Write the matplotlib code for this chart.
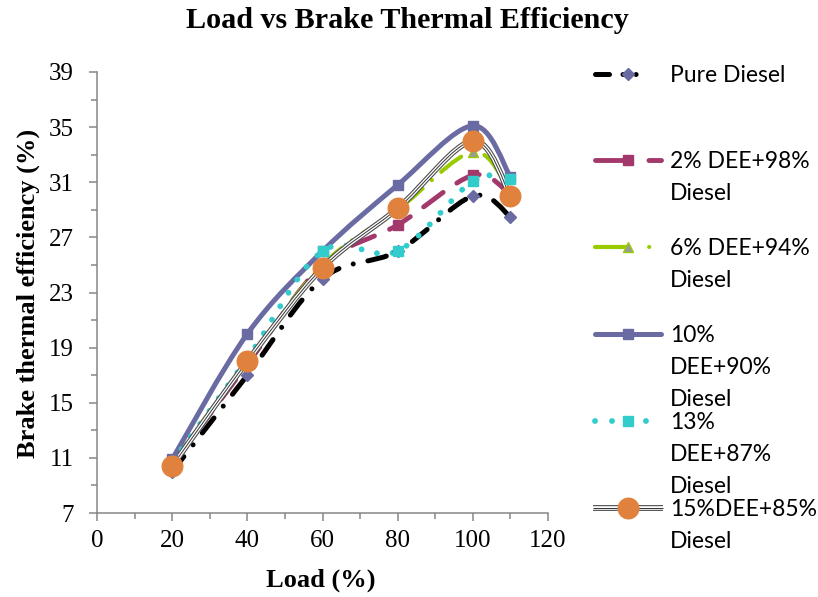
import numpy as np
import matplotlib
matplotlib.use("Agg")
import matplotlib.pyplot as plt
from matplotlib.path import Path
from matplotlib.patches import PathPatch
from matplotlib.lines import Line2D

# data
load = [20, 40, 60, 80, 100, 110]
pure_diesel = [10.0, 17.0, 24.0, 26.0, 30.0, 28.5]
dee_2 = [10.5, 17.8, 25.0, 27.9, 31.5, 30.1]
dee_6 = [10.6, 18.0, 25.0, 29.0, 33.2, 30.3]
dee_10 = [10.9, 20.0, 26.0, 30.8, 35.1, 31.4]
dee_13 = [10.7, 18.2, 26.0, 26.0, 31.1, 31.2]
dee_15 = [10.4, 18.0, 24.8, 29.1, 34.0, 30.0]

labels = ["Pure Diesel", "2% DEE+98%\nDiesel", "6% DEE+94%\nDiesel",
          "10%\nDEE+90%\nDiesel", "13%\nDEE+87%\nDiesel", "15%DEE+85%\nDiesel"]

W, H = 818, 597
fig = plt.figure(figsize=(W / 100, H / 100), dpi=100)


def fx(px):
    return px / W


def fy(py):
    return 1 - py / H


ax = fig.add_axes([fx(97), fy(513), (548 - 97) / W, (513 - 72) / H])


# Excel-style smoothed line: cubic bezier with control points from neighbours
def smooth_path(x, y):
    p = np.column_stack([x, y]).astype(float)
    n = len(p)
    verts = [p[0]]
    codes = [Path.MOVETO]
    for i in range(n - 1):
        prev = p[i - 1] if i > 0 else p[i]
        nxt = p[i + 2] if i + 2 < n else p[i + 1]
        c1 = p[i] + (p[i + 1] - prev) / 6
        c2 = p[i + 1] - (nxt - p[i]) / 6
        verts += [c1, c2, p[i + 1]]
        codes += [Path.CURVE4] * 3
    return Path(verts, codes)


def add_curve(y, color, lw, ls, cap="round"):
    patch = PathPatch(smooth_path(load, y), fill=False, edgecolor=color, lw=lw,
                      linestyle=ls, capstyle=cap, joinstyle="round")
    ax.add_patch(patch)


purple = "#6b6ba3"
maroon = "#a3386b"
green = "#99cc00"
cyan = "#33cccc"
orange = "#e0823d"

ls_pure = (0, (3.8, 3, 0.01, 3))
ls_2 = (0, (5, 3.4))
ls_6 = (0, (6, 3, 0.01, 3))
ls_13 = (0, (0.01, 2.7))

# pure diesel
add_curve(pure_diesel, "black", 3.6, ls_pure)
ax.plot(load, pure_diesel, ls="none", marker="D", ms=6.5, color=purple, mec=purple)
# 2% DEE
add_curve(dee_2, maroon, 3.5, ls_2)
ax.plot(load, dee_2, ls="none", marker="s", ms=7, color=maroon)
# 6% DEE
add_curve(dee_6, green, 3.0, ls_6)
ax.plot(load, dee_6, ls="none", marker="^", ms=7, color="#999999", mec=green, mew=1)
# 10% DEE
add_curve(dee_10, purple, 3.6, "-")
ax.plot(load, dee_10, ls="none", marker="s", ms=7.2, color=purple)
# 13% DEE
add_curve(dee_13, cyan, 4.2, ls_13)
ax.plot(load, dee_13, ls="none", marker="s", ms=7.8, color=cyan)
# 15% DEE (compound line)
add_curve(dee_15, "#4d4d4d", 4.2, "-", cap="butt")
add_curve(dee_15, "white", 2.6, "-", cap="butt")
add_curve(dee_15, "#333333", 0.7, "-", cap="butt")
ax.plot(load, dee_15, ls="none", marker="o", ms=14.8, color=orange, mec=orange)

ax.set_xlim(0, 120)
ax.set_ylim(7, 39)
ax.set_xticks(range(0, 121, 20))
ax.set_xticks(range(0, 121, 10), minor=True)
ax.set_yticks(range(7, 40, 4))
ax.set_yticks(range(7, 40, 2), minor=True)

grey = "#868686"
for s in ["top", "right"]:
    ax.spines[s].set_visible(False)
for s in ["left", "bottom"]:
    ax.spines[s].set_color(grey)
    ax.spines[s].set_linewidth(1.1)
ax.tick_params(which="both", direction="out", color=grey, width=1.1)
ax.tick_params(which="major", length=5.5)
ax.tick_params(which="minor", length=4.3)
ax.tick_params(axis="y", which="major", pad=11)
ax.tick_params(axis="x", which="major", pad=7)
for t in ax.get_xticklabels() + ax.get_yticklabels():
    t.set_fontfamily("Liberation Serif")
    t.set_fontsize(18)

fig.text(fx(407), fy(20), "Load vs Brake Thermal Efficiency", ha="center", va="center",
         family="Liberation Serif", weight="bold", fontsize=21.7)
fig.text(fx(321), fy(580), "Load (%)", ha="center", va="center",
         family="Liberation Serif", weight="bold", fontsize=19)
fig.text(fx(28), fy(293), "Brake thermal efficiency (%)", ha="center", va="center",
         rotation=90, family="Liberation Serif", weight="bold", fontsize=19)

# legend, drawn by hand to keep Excel's even spacing
styles = [
    dict(color="black", lw=3.6, ls=(0, (2.8, 2.7, 0.01, 2.6, 0.01, 10)), marker="D",
         ms=6.5, mfc=purple, mec=purple),
    dict(color=maroon, lw=3.5, ls=(0, (7, 4)), marker="s", ms=7, mfc=maroon, mec=maroon),
    dict(color=green, lw=3.0, ls=(0, (8, 5, 0.01, 5)), marker="^", ms=7, mfc="#999999",
         mec=green),
    dict(color=purple, lw=3.6, ls="-", marker="s", ms=7.2, mfc=purple, mec=purple),
    dict(color=cyan, lw=4.2, ls=(0, (0.01, 2.9)), marker="s", ms=7.8, mfc=cyan, mec=cyan),
]
row_y = [74, 160, 247, 334, 421, 508]
for i, lab in enumerate(labels):
    yy = fy(row_y[i])
    if i < 5:
        st = styles[i]
        fig.add_artist(Line2D([fx(595), fx(661)], [yy, yy], transform=fig.transFigure,
                              color=st["color"], lw=st["lw"], ls=st["ls"],
                              dash_capstyle="round", solid_capstyle="round"))
        fig.add_artist(Line2D([fx(628)], [yy], transform=fig.transFigure, ls="none",
                              marker=st["marker"], ms=st["ms"], mfc=st["mfc"], mec=st["mec"]))
    else:
        for c, w in [("#4d4d4d", 4.2), ("white", 2.6), ("#333333", 0.7)]:
            fig.add_artist(Line2D([fx(593), fx(663)], [yy, yy], transform=fig.transFigure,
                                  color=c, lw=w, solid_capstyle="butt"))
        fig.add_artist(Line2D([fx(628)], [yy], transform=fig.transFigure, ls="none",
                              marker="o", ms=14.8, mfc=orange, mec=orange))
    fig.text(fx(670), yy + 9 / H, lab, ha="left", va="top", family="Lato",
             fontsize=16.5, linespacing=1.65)

fig.savefig("out.png", dpi=100)
